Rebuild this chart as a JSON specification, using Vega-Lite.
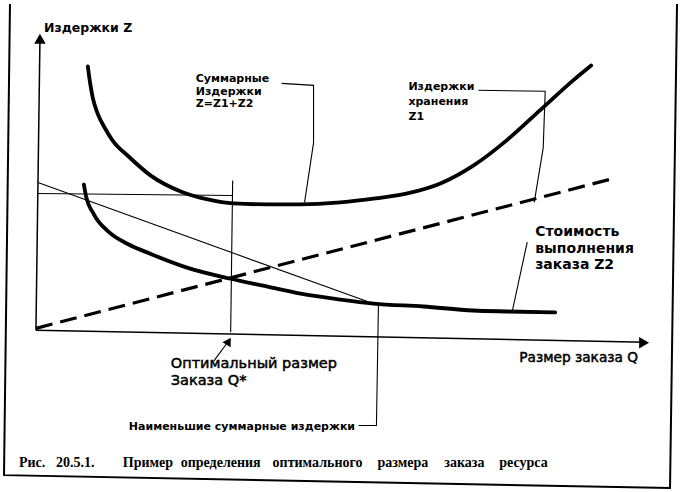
{
  "$schema": "https://vega.github.io/schema/vega-lite/v6.json",
  "width": 684,
  "height": 492,
  "autosize": {"type": "fit", "contains": "padding"},
  "padding": 0,
  "background": "white",
  "config": {"view": {"stroke": null}},
  "datasets": {
    "lines": [
      {"id": "frame", "o": 1, "x": 9, "y": 0},
      {"id": "frame", "o": 2, "x": 3, "y": 475},
      {"id": "frame", "o": 3, "x": 670, "y": 488},
      {"id": "frame", "o": 4, "x": 677, "y": 0},
      {"id": "xaxis", "o": 1, "x": 35, "y": 329},
      {"id": "xaxis", "o": 2, "x": 646, "y": 341},
      {"id": "yaxis", "o": 1, "x": 35, "y": 329},
      {"id": "yaxis", "o": 2, "x": 39, "y": 36},
      {"id": "total", "o": 1, "x": 87, "y": 63},
      {"id": "total", "o": 2, "x": 89, "y": 78},
      {"id": "total", "o": 3, "x": 92, "y": 95},
      {"id": "total", "o": 4, "x": 97, "y": 111},
      {"id": "total", "o": 5, "x": 104, "y": 125},
      {"id": "total", "o": 6, "x": 112, "y": 138},
      {"id": "total", "o": 7, "x": 127, "y": 153},
      {"id": "total", "o": 8, "x": 150, "y": 173},
      {"id": "total", "o": 9, "x": 180, "y": 189},
      {"id": "total", "o": 10, "x": 207, "y": 197},
      {"id": "total", "o": 11, "x": 233, "y": 201},
      {"id": "total", "o": 12, "x": 267, "y": 202},
      {"id": "total", "o": 13, "x": 300, "y": 202},
      {"id": "total", "o": 14, "x": 340, "y": 200},
      {"id": "total", "o": 15, "x": 375, "y": 196},
      {"id": "total", "o": 16, "x": 407, "y": 191},
      {"id": "total", "o": 17, "x": 440, "y": 181},
      {"id": "total", "o": 18, "x": 473, "y": 163},
      {"id": "total", "o": 19, "x": 507, "y": 137},
      {"id": "total", "o": 20, "x": 540, "y": 107},
      {"id": "total", "o": 21, "x": 573, "y": 77},
      {"id": "total", "o": 22, "x": 591, "y": 62},
      {"id": "z2", "o": 1, "x": 83, "y": 182},
      {"id": "z2", "o": 2, "x": 85, "y": 193},
      {"id": "z2", "o": 3, "x": 93, "y": 212},
      {"id": "z2", "o": 4, "x": 107, "y": 229},
      {"id": "z2", "o": 5, "x": 127, "y": 242},
      {"id": "z2", "o": 6, "x": 150, "y": 252},
      {"id": "z2", "o": 7, "x": 187, "y": 266},
      {"id": "z2", "o": 8, "x": 230, "y": 277},
      {"id": "z2", "o": 9, "x": 267, "y": 285},
      {"id": "z2", "o": 10, "x": 300, "y": 292},
      {"id": "z2", "o": 11, "x": 340, "y": 298},
      {"id": "z2", "o": 12, "x": 373, "y": 302},
      {"id": "z2", "o": 13, "x": 423, "y": 305},
      {"id": "z2", "o": 14, "x": 473, "y": 309},
      {"id": "z2", "o": 15, "x": 507, "y": 310},
      {"id": "z2", "o": 16, "x": 555, "y": 311},
      {"id": "z1", "o": 1, "x": 35, "y": 327},
      {"id": "z1", "o": 2, "x": 613, "y": 176},
      {"id": "h", "o": 1, "x": 37, "y": 191},
      {"id": "h", "o": 2, "x": 232, "y": 193},
      {"id": "v", "o": 1, "x": 232, "y": 178},
      {"id": "v", "o": 2, "x": 230, "y": 331},
      {"id": "diag", "o": 1, "x": 37, "y": 180},
      {"id": "diag", "o": 2, "x": 367, "y": 300},
      {"id": "l_total", "o": 1, "x": 281, "y": 80},
      {"id": "l_total", "o": 2, "x": 313, "y": 82},
      {"id": "l_total", "o": 3, "x": 313, "y": 140},
      {"id": "l_total", "o": 4, "x": 304, "y": 200},
      {"id": "l_z1", "o": 1, "x": 478, "y": 87},
      {"id": "l_z1", "o": 2, "x": 545, "y": 88},
      {"id": "l_z1", "o": 3, "x": 543, "y": 145},
      {"id": "l_z1", "o": 4, "x": 534, "y": 200},
      {"id": "l_z2", "o": 1, "x": 527, "y": 240},
      {"id": "l_z2", "o": 2, "x": 512, "y": 310},
      {"id": "l_min", "o": 1, "x": 378, "y": 302},
      {"id": "l_min", "o": 2, "x": 376, "y": 425},
      {"id": "l_min", "o": 3, "x": 358, "y": 425},
      {"id": "l_q", "o": 1, "x": 213, "y": 360},
      {"id": "l_q", "o": 2, "x": 227, "y": 341}
    ],
    "arrows": [
      {"id": "yarrow", "x": 39, "y": 35},
      {"id": "xarrow", "x": 644, "y": 341.5},
      {"id": "qarrow", "x": 228, "y": 340}
    ],
    "labels": [
      {"g": "ax", "x": 43, "y": 28.5, "t": "Издержки Z"},
      {"g": "tot", "x": 195, "y": 79, "t": "Суммарные"},
      {"g": "tot", "x": 195, "y": 91.5, "t": "Издержки"},
      {"g": "tot", "x": 195, "y": 104, "t": "Z=Z1+Z2"},
      {"g": "z1", "x": 408, "y": 87, "t": "Издержки"},
      {"g": "z1", "x": 408, "y": 102, "t": "хранения"},
      {"g": "z1", "x": 408, "y": 117, "t": "Z1"},
      {"g": "z2", "x": 535, "y": 234, "t": "Стоимость"},
      {"g": "z2", "x": 535, "y": 251, "t": "выполнения"},
      {"g": "z2", "x": 535, "y": 267, "t": "заказа Z2"},
      {"g": "min", "x": 128, "y": 429, "t": "Наименьшие суммарные издержки"},
      {"g": "opt", "x": 170, "y": 367, "t": "Оптимальный размер"},
      {"g": "opt", "x": 170, "y": 384, "t": "Заказа Q*"},
      {"g": "qx", "x": 519, "y": 361, "t": "Размер заказа Q"},
      {"g": "cap", "x": 18, "y": 467, "t": "Рис."},
      {"g": "cap", "x": 55, "y": 467, "t": "20.5.1."},
      {"g": "cap", "x": 122, "y": 467, "t": "Пример"},
      {"g": "cap", "x": 180, "y": 467, "t": "определения"},
      {"g": "cap", "x": 272, "y": 467, "t": "оптимального"},
      {"g": "cap", "x": 377, "y": 467, "t": "размера"},
      {"g": "cap", "x": 444, "y": 467, "t": "заказа"},
      {"g": "cap", "x": 499, "y": 467, "t": "ресурса"}
    ]
  },
  "encoding": {
    "x": {"field": "x", "type": "quantitative", "scale": {"domain": [0, 684], "nice": false, "zero": false}, "axis": null},
    "y": {"field": "y", "type": "quantitative", "scale": {"domain": [0, 492], "nice": false, "zero": false, "reverse": true}, "axis": null}
  },
  "layer": [
    {
      "data": {"name": "lines"},
      "transform": [{"filter": {"field": "id", "equal": "frame"}}],
      "mark": {"type": "line", "color": "black", "strokeWidth": 2},
      "encoding": {"order": {"field": "o"}, "detail": {"field": "id"}}
    },
    {
      "data": {"name": "lines"},
      "transform": [{"filter": {"field": "id", "oneOf": ["xaxis", "yaxis"]}}],
      "mark": {"type": "line", "color": "black", "strokeWidth": 1.5},
      "encoding": {"order": {"field": "o"}, "detail": {"field": "id"}}
    },
    {
      "data": {"name": "lines"},
      "transform": [{"filter": {"field": "id", "oneOf": ["h", "v", "diag", "l_total", "l_z1", "l_z2", "l_min", "l_q"]}}],
      "mark": {"type": "line", "color": "black", "strokeWidth": 1.1},
      "encoding": {"order": {"field": "o"}, "detail": {"field": "id"}}
    },
    {
      "data": {"name": "lines"},
      "transform": [{"filter": {"field": "id", "equal": "z1"}}],
      "mark": {"type": "line", "color": "black", "strokeWidth": 3.2, "strokeDash": [17, 8]},
      "encoding": {"order": {"field": "o"}, "detail": {"field": "id"}}
    },
    {
      "data": {"name": "lines"},
      "transform": [{"filter": {"field": "id", "oneOf": ["total", "z2"]}}],
      "mark": {"type": "line", "color": "black", "strokeWidth": 3.8, "interpolate": "monotone", "strokeCap": "round"},
      "encoding": {"order": {"field": "o"}, "detail": {"field": "id"}}
    },
    {
      "data": {"name": "arrows"},
      "transform": [{"filter": {"field": "id", "equal": "yarrow"}}],
      "mark": {"type": "point", "shape": "triangle-up", "filled": true, "color": "black", "opacity": 1, "size": 130}
    },
    {
      "data": {"name": "arrows"},
      "transform": [{"filter": {"field": "id", "equal": "xarrow"}}],
      "mark": {"type": "point", "shape": "triangle-right", "filled": true, "color": "black", "opacity": 1, "size": 130}
    },
    {
      "data": {"name": "arrows"},
      "transform": [{"filter": {"field": "id", "equal": "qarrow"}}],
      "mark": {"type": "point", "shape": "triangle-up", "angle": 31, "filled": true, "color": "black", "opacity": 1, "size": 90}
    },
    {
      "data": {"name": "labels"},
      "transform": [{"filter": {"field": "g", "equal": "ax"}}],
      "mark": {"type": "text", "align": "left", "baseline": "alphabetic", "font": "DejaVu Sans", "fontWeight": "bold", "fontSize": 12.5, "color": "black"},
      "encoding": {"text": {"field": "t"}}
    },
    {
      "data": {"name": "labels"},
      "transform": [{"filter": {"field": "g", "equal": "tot"}}],
      "mark": {"type": "text", "align": "left", "baseline": "alphabetic", "font": "DejaVu Sans", "fontWeight": "bold", "fontSize": 11, "color": "black"},
      "encoding": {"text": {"field": "t"}}
    },
    {
      "data": {"name": "labels"},
      "transform": [{"filter": {"field": "g", "equal": "z1"}}],
      "mark": {"type": "text", "align": "left", "baseline": "alphabetic", "font": "DejaVu Sans", "fontWeight": "bold", "fontSize": 11, "color": "black"},
      "encoding": {"text": {"field": "t"}}
    },
    {
      "data": {"name": "labels"},
      "transform": [{"filter": {"field": "g", "equal": "z2"}}],
      "mark": {"type": "text", "align": "left", "baseline": "alphabetic", "font": "DejaVu Sans", "fontWeight": "bold", "fontSize": 14, "color": "black"},
      "encoding": {"text": {"field": "t"}}
    },
    {
      "data": {"name": "labels"},
      "transform": [{"filter": {"field": "g", "equal": "min"}}],
      "mark": {"type": "text", "align": "left", "baseline": "alphabetic", "font": "DejaVu Sans", "fontWeight": "bold", "fontSize": 11, "color": "black"},
      "encoding": {"text": {"field": "t"}}
    },
    {
      "data": {"name": "labels"},
      "transform": [{"filter": {"field": "g", "oneOf": ["opt"]}}],
      "mark": {"type": "text", "align": "left", "baseline": "alphabetic", "font": "DejaVu Sans", "fontSize": 14.5, "color": "black", "stroke": "black", "strokeWidth": 0.5},
      "encoding": {"text": {"field": "t"}}
    },
    {
      "data": {"name": "labels"},
      "transform": [{"filter": {"field": "g", "oneOf": ["qx"]}}],
      "mark": {"type": "text", "align": "left", "baseline": "alphabetic", "font": "DejaVu Sans", "fontSize": 13.7, "color": "black", "stroke": "black", "strokeWidth": 0.5},
      "encoding": {"text": {"field": "t"}}
    },
    {
      "data": {"name": "labels"},
      "transform": [{"filter": {"field": "g", "equal": "cap"}}],
      "mark": {"type": "text", "align": "left", "baseline": "alphabetic", "font": "Liberation Serif", "fontWeight": "bold", "fontSize": 14, "color": "black"},
      "encoding": {"text": {"field": "t"}}
    }
  ]
}
